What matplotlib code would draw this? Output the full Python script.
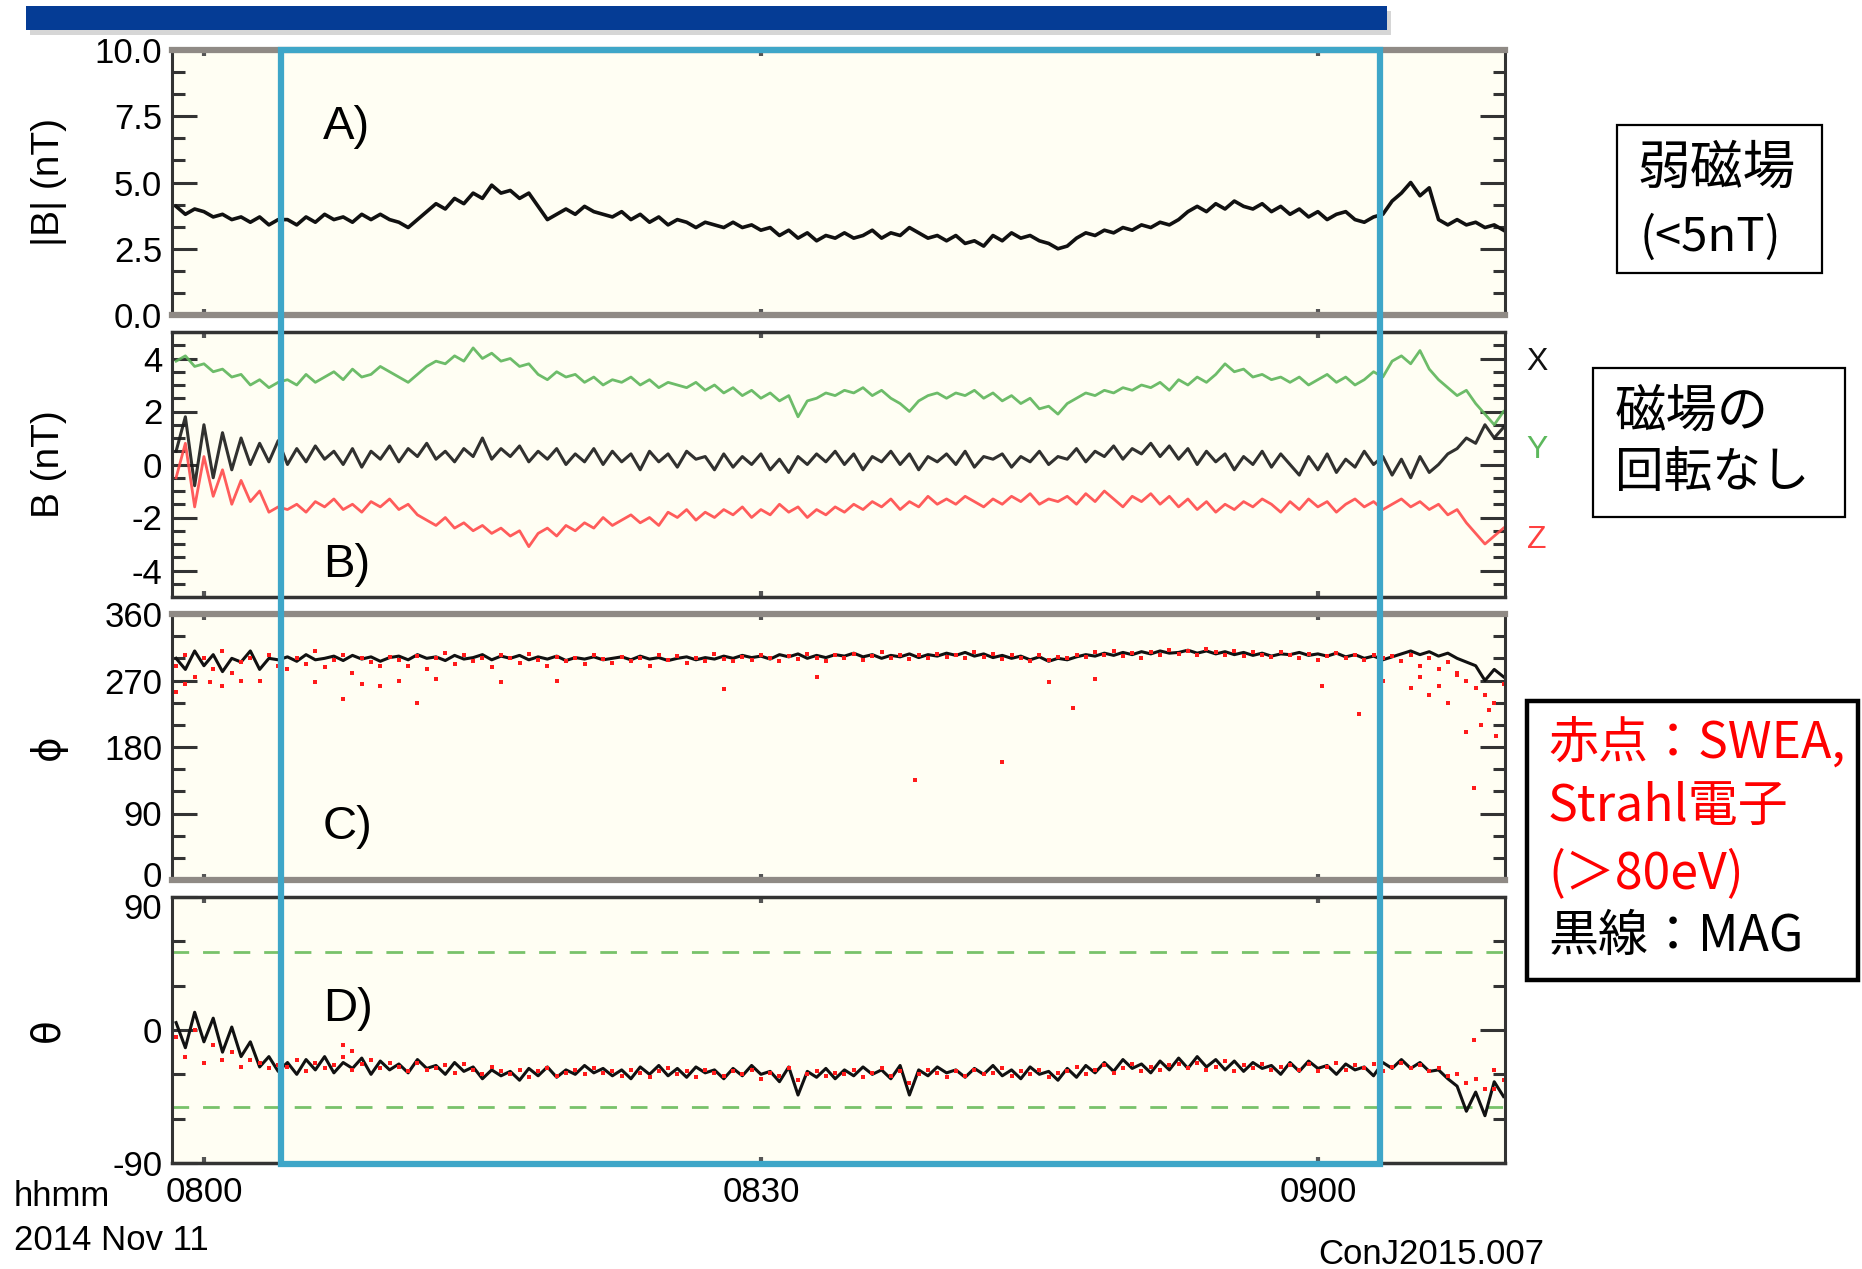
import matplotlib
matplotlib.use("Agg")
import matplotlib.pyplot as plt
import numpy as np
from matplotlib.patches import Rectangle
from matplotlib.transforms import blended_transform_factory, ScaledTranslation

plt.rcParams['font.family'] = ['Liberation Sans', 'Noto Sans CJK JP', 'DejaVu Sans']
plt.rcParams['axes.unicode_minus'] = False

W, H = 1862, 1269
CJK = ['Noto Sans CJK JP', 'DejaVu Sans']

# samples every 30 s, minutes after 08:00
t0, dt = -1.5, 0.5

b_mag = [4.1, 3.8, 4.0, 3.9, 3.7, 3.8, 3.6, 3.7, 3.5, 3.7, 3.4, 3.6,
         3.6, 3.4, 3.7, 3.5, 3.8, 3.6, 3.7, 3.5, 3.8, 3.6, 3.8, 3.6,
         3.5, 3.3, 3.6, 3.9, 4.2, 4.0, 4.4, 4.2, 4.6, 4.4, 4.9, 4.6,
         4.7, 4.4, 4.6, 4.1, 3.6, 3.8, 4.0, 3.8, 4.1, 3.9, 3.8, 3.7,
         3.9, 3.6, 3.8, 3.5, 3.7, 3.4, 3.6, 3.5, 3.3, 3.5, 3.4, 3.3,
         3.5, 3.3, 3.4, 3.2, 3.3, 3.0, 3.2, 2.9, 3.1, 2.8, 3.0, 2.9,
         3.1, 2.9, 3.0, 3.2, 2.9, 3.1, 3.0, 3.3, 3.1, 2.9, 3.0, 2.8,
         3.0, 2.7, 2.8, 2.6, 3.0, 2.8, 3.1, 2.9, 3.0, 2.8, 2.7, 2.5,
         2.6, 2.9, 3.1, 3.0, 3.2, 3.1, 3.3, 3.2, 3.4, 3.3, 3.5, 3.4,
         3.6, 3.9, 4.1, 3.9, 4.2, 4.0, 4.3, 4.1, 4.0, 4.2, 3.9, 4.1,
         3.8, 4.0, 3.7, 3.9, 3.6, 3.8, 3.9, 3.6, 3.5, 3.7, 3.8, 4.3,
         4.6, 5.0, 4.5, 4.8, 3.6, 3.4, 3.6, 3.4, 3.5, 3.3, 3.4, 3.2]

b_x = [0.5, 1.8, -0.8, 1.5, -0.5, 1.2, -0.2, 1.0, 0.0, 0.8, 0.1, 0.9,
       0.0, 0.6, 0.1, 0.7, 0.2, 0.5, 0.0, 0.6, -0.1, 0.5, 0.2, 0.7,
       0.1, 0.6, 0.3, 0.8, 0.2, 0.5, 0.1, 0.6, 0.3, 1.0, 0.2, 0.6,
       0.3, 0.7, 0.1, 0.5, 0.2, 0.6, 0.0, 0.4, 0.1, 0.6, 0.0, 0.5,
       0.1, 0.4, -0.2, 0.5, 0.1, 0.4, -0.1, 0.5, 0.2, 0.3, -0.2, 0.4,
       -0.1, 0.3, 0.0, 0.4, -0.2, 0.2, -0.3, 0.3, 0.0, 0.4, 0.1, 0.5,
       0.0, 0.4, -0.2, 0.3, 0.1, 0.5, 0.0, 0.4, -0.2, 0.3, 0.1, 0.4,
       0.0, 0.5, -0.1, 0.3, 0.2, 0.4, -0.1, 0.3, 0.1, 0.5, 0.0, 0.3,
       0.2, 0.6, 0.1, 0.5, 0.3, 0.7, 0.2, 0.6, 0.4, 0.8, 0.3, 0.7,
       0.2, 0.6, 0.0, 0.5, 0.1, 0.4, -0.2, 0.3, 0.0, 0.5, -0.1, 0.4,
       0.0, -0.4, 0.3, -0.2, 0.4, -0.3, 0.2, -0.1, 0.5, 0.0, 0.3, -0.4,
       0.2, -0.5, 0.3, -0.3, 0.0, 0.4, 0.6, 1.0, 0.8, 1.5, 1.0, 1.4]

b_y = [3.9, 4.1, 3.7, 3.8, 3.5, 3.6, 3.3, 3.4, 3.0, 3.2, 2.9, 3.1,
       3.2, 3.0, 3.4, 3.1, 3.3, 3.5, 3.2, 3.6, 3.3, 3.4, 3.7, 3.5,
       3.3, 3.1, 3.4, 3.7, 3.9, 3.8, 4.1, 3.9, 4.4, 4.0, 4.2, 3.9,
       4.0, 3.7, 3.8, 3.4, 3.2, 3.5, 3.3, 3.4, 3.1, 3.3, 3.0, 3.2,
       3.1, 3.3, 3.0, 3.2, 2.9, 3.1, 3.0, 2.9, 3.1, 2.8, 3.0, 2.7,
       2.9, 2.6, 2.8, 2.5, 2.7, 2.4, 2.6, 1.8, 2.4, 2.5, 2.7, 2.6,
       2.8, 2.7, 2.9, 2.6, 2.8, 2.5, 2.3, 2.0, 2.4, 2.6, 2.7, 2.5,
       2.7, 2.6, 2.8, 2.5, 2.7, 2.4, 2.6, 2.3, 2.5, 2.1, 2.2, 1.9,
       2.3, 2.5, 2.7, 2.6, 2.8, 2.7, 2.9, 2.8, 3.0, 2.9, 3.1, 2.8,
       3.2, 3.0, 3.3, 3.1, 3.4, 3.8, 3.5, 3.6, 3.3, 3.4, 3.2, 3.3,
       3.1, 3.3, 3.0, 3.2, 3.4, 3.1, 3.3, 3.0, 3.2, 3.5, 3.3, 3.9,
       4.1, 3.8, 4.3, 3.6, 3.2, 2.9, 2.6, 2.8, 2.3, 1.9, 1.5, 2.0]

b_z = [-0.5, 0.8, -1.6, 0.3, -1.2, -0.2, -1.5, -0.6, -1.4, -1.0, -1.8, -1.6,
       -1.7, -1.5, -1.8, -1.4, -1.6, -1.3, -1.7, -1.5, -1.8, -1.4, -1.6, -1.3,
       -1.7, -1.5, -1.9, -2.1, -2.3, -2.0, -2.4, -2.2, -2.5, -2.3, -2.6, -2.4,
       -2.7, -2.5, -3.1, -2.6, -2.4, -2.7, -2.3, -2.5, -2.2, -2.4, -2.0, -2.3,
       -2.1, -1.9, -2.2, -2.0, -2.3, -1.8, -2.0, -1.7, -2.1, -1.8, -2.0, -1.7,
       -1.9, -1.6, -2.0, -1.7, -1.9, -1.5, -1.8, -1.6, -2.0, -1.7, -1.9, -1.6,
       -1.8, -1.5, -1.7, -1.4, -1.6, -1.3, -1.7, -1.4, -1.6, -1.2, -1.5, -1.3,
       -1.5, -1.2, -1.4, -1.6, -1.3, -1.5, -1.2, -1.4, -1.1, -1.5, -1.3, -1.4,
       -1.2, -1.5, -1.1, -1.4, -1.0, -1.3, -1.6, -1.2, -1.4, -1.1, -1.5, -1.2,
       -1.6, -1.3, -1.7, -1.4, -1.8, -1.5, -1.7, -1.4, -1.6, -1.3, -1.5, -1.8,
       -1.4, -1.7, -1.3, -1.6, -1.4, -1.8, -1.5, -1.3, -1.6, -1.4, -1.7, -1.5,
       -1.3, -1.6, -1.4, -1.7, -1.5, -1.9, -1.7, -2.2, -2.6, -3.0, -2.7, -2.4]

phi_mag = [300, 285, 310, 290, 305, 282, 300, 295, 310, 285, 300, 298,
           302, 296, 305, 298, 300, 303, 297, 304, 299, 302, 296, 301,
           303, 298, 305, 300, 302, 297, 304, 299, 301, 305, 298, 303,
           300, 304, 298, 302, 299, 303, 297, 301, 299, 302, 298, 300,
           302, 298, 303, 299, 301, 297, 300, 302, 298, 301, 299, 303,
           300, 304, 301, 303, 299, 305, 302, 306, 300, 304, 301, 305,
           303, 307, 302, 305, 300, 304, 302, 306, 301, 305, 303, 307,
           304, 308, 303, 306, 301, 304, 300, 303, 298, 302, 296, 300,
           298, 302, 305, 303, 307, 304, 308, 305, 309, 306, 310, 307,
           308, 311, 307, 310, 306, 309, 305, 308, 304, 307, 303, 306,
           305, 308, 304, 306, 303, 307, 302, 305, 300, 303, 298, 302,
           306, 310, 305, 309, 303, 307, 300, 295, 290, 270, 285, 275]

phi_swea = [290, 305, 275, 300, 285, 310, 280, 295, 300, 270, 305, 290,
            285, 300, 292, 310, 288, 298, 305, 280, 300, 295, 290, 302,
            298, 290, 303, 285, 300, 307, 293, 305, 296, 300, 288, 304,
            300, 294, 306, 298, 290, 302, 296, 300, 292, 305, 299, 294,
            302, 296, 300, 290, 305, 298, 303, 294, 300, 297, 306, 299,
            296, 302, 298, 305, 300, 296, 303, 299, 306, 301, 297, 304,
            300, 306, 298, 303, 309, 301, 305, 299, 304, 300, 306, 302,
            305, 300, 308, 302, 306, 299, 304, 301, 296, 305, 298, 302,
            300, 305, 302, 308, 304, 310, 303, 307, 301, 309, 305, 311,
            306, 310, 304, 312, 308, 305, 310, 303, 308, 305, 302, 309,
            304, 300, 306, 298, 303, 307, 300, 304, 298, 305, 300, 303,
            296, 305, 290, 300, 285, 295, 280, 270, 260, 250, 240, 265]

# scattered SWEA points away from the main band
phi_out_t = [-1.5, -1.0, 0.3, 1.0, 2.0, 4.2, 6.0, 7.5, 8.5, 9.5, 10.5, 11.5,
             12.5, 16.0, 19.0, 28.0, 33.0, 38.3, 43.0, 45.5, 46.8, 48.0,
             60.2, 62.2, 63.5, 65.0, 65.5, 66.0, 66.5, 67.0, 67.5, 68.0,
             68.4, 68.8, 69.2, 69.6]
phi_out_v = [255, 265, 268, 262, 270, 258, 268, 245, 265, 262, 270, 240,
             272, 268, 270, 258, 275, 135, 160, 268, 233, 272,
             262, 225, 270, 260, 275, 250, 262, 240, 278, 200,
             125, 210, 230, 195]

theta_mag = [5, -12, 12, -8, 8, -15, 2, -18, -8, -25, -18, -28,
             -22, -30, -20, -27, -18, -29, -22, -26, -19, -30, -21, -27,
             -23, -29, -20, -26, -24, -30, -22, -28, -25, -33, -27, -31,
             -28, -34, -26, -31, -25, -32, -27, -30, -24, -29, -26, -31,
             -27, -33, -25, -30, -24, -31, -26, -32, -25, -29, -27, -33,
             -26, -31, -24, -30, -28, -35, -25, -44, -28, -32, -26, -33,
             -27, -31, -25, -30, -27, -33, -24, -44, -27, -31, -25, -29,
             -27, -32, -26, -30, -24, -31, -27, -33, -25, -30, -28, -34,
             -26, -32, -24, -29, -22, -28, -20, -26, -23, -29, -21, -27,
             -19, -26, -18, -25, -20, -27, -21, -28, -22, -26, -24, -30,
             -22, -28, -21, -26, -24, -30, -23, -27, -25, -31, -22, -26,
             -20, -26, -22, -28, -27, -33, -38, -55, -42, -58, -35, -45]

theta_swea = [-5, -18, 0, -22, -10, -20, -15, -25, -20, -22, -26, -24,
              -25, -20, -28, -22, -26, -24, -18, -27, -23, -20, -26, -22,
              -25, -28, -22, -27, -26, -24, -29, -23, -27, -30, -25, -28,
              -30, -27, -32, -28, -26, -31, -29, -27, -30, -26, -29, -28,
              -31, -27, -29, -32, -28, -26, -30, -28, -32, -27, -29, -31,
              -28, -30, -27, -33, -29, -31, -26, -34, -30, -28, -31, -29,
              -30, -27, -32, -29, -26, -31, -28, -36, -30, -27, -29, -32,
              -28, -31, -27, -30, -29, -26, -31, -28, -30, -27, -32, -29,
              -28, -25, -30, -27, -24, -29, -26, -23, -28, -25, -27, -24,
              -23, -26, -22, -27, -25, -21, -28, -24, -26, -23, -27, -25,
              -24, -27, -23, -28, -25, -22, -27, -24, -26, -23, -28, -25,
              -22, -26, -24, -28, -26, -31, -30, -36, -33, -40, -27, -34]

theta_out_t = [7.5, 8.0, 68.4, 69.5]
theta_out_v = [-10, -14, -7, -40]

theta_limits = [53, -52]          # green dashed reference lines
xtick_pos = [0, 30, 60]
xtick_lab = ['0800', '0830', '0900']
window = [4.15, 63.35]            # highlighted interval


def tt(vals):
    return t0 + dt * np.arange(len(vals))


def fx(x):
    return x / W


def fy(y):
    return 1 - y / H


fig = plt.figure(figsize=(W / 100, H / 100), dpi=100)
fig.patch.set_facecolor('white')

ax_left, ax_right = 172, 1505
rows = [(50, 315, 'gray'), (332, 597, 'dark'), (614, 880, 'gray'), (897, 1163, 'dark')]
axes = []
for top, bot, edge in rows:
    ax = fig.add_axes([fx(ax_left), fy(bot), (ax_right - ax_left) / W, (bot - top) / H])
    ax.set_facecolor('#fffef3')
    ax.set_xlim(-1.72, 70.08)
    ax.set_xticks(xtick_pos)
    ax.tick_params(axis='x', direction='in', length=4, width=3, top=True, bottom=True,
                   labelbottom=False, color='#555555')
    ax.tick_params(axis='y', which='major', direction='in', length=18, width=2.2,
                   left=True, right=True, labelsize=25, pad=7, color='#333333')
    ax.tick_params(axis='y', which='minor', direction='in', length=9, width=2.2,
                   left=True, right=True, color='#333333')
    for s in ['left', 'right']:
        ax.spines[s].set_color('#333333')
        ax.spines[s].set_linewidth(2.2)
    for s in ['top', 'bottom']:
        if edge == 'gray':
            ax.spines[s].set_color('#8f8a85')
            ax.spines[s].set_linewidth(4.5)
        else:
            ax.spines[s].set_color('#333333')
            ax.spines[s].set_linewidth(2.5)
    axes.append(ax)

axA, axB, axC, axD = axes

# A) |B|
axA.plot(tt(b_mag), b_mag, color='#111111', lw=2.6)
axA.set_ylim(0, 10)
axA.set_yticks([0, 2.5, 5, 7.5, 10])
axA.set_yticklabels(['0.0', '2.5', '5.0', '7.5', '10.0'])
axA.set_yticks(np.arange(0, 10.01, 2.5 / 3), minor=True)
axA.set_ylabel('|B| (nT)', fontsize=28)

# B) components
axB.plot(tt(b_y), b_y, color='#5db55a', lw=2.0, alpha=0.9)
axB.plot(tt(b_x), b_x, color='#1a1a1a', lw=2.2, alpha=0.9)
axB.plot(tt(b_z), b_z, color='#ff4a4a', lw=2.0, alpha=0.9)
axB.set_ylim(-5, 5)
axB.set_yticks([-4, -2, 0, 2, 4])
axB.set_yticklabels(['-4', '-2', '0', '2', '4'])
axB.set_yticks(np.arange(-4.5, 5.0, 0.5), minor=True)
axB.set_ylabel('B (nT)', fontsize=28)

# C) phi
axC.plot(tt(phi_mag), phi_mag, color='#111111', lw=2.2)
axC.plot(tt(phi_swea), phi_swea, 's', color='#ff1a1a', ms=3.2, mew=0)
axC.plot(phi_out_t, phi_out_v, 's', color='#ff1a1a', ms=3.2, mew=0)
axC.set_ylim(0, 360)
axC.set_yticks([0, 90, 180, 270, 360])
axC.set_yticks(np.arange(0, 361, 30), minor=True)
axC.set_ylabel('ϕ', fontsize=28, family=['DejaVu Sans'])

# D) theta
for v in theta_limits:
    axD.axhline(v, color='#78c26a', lw=2, dashes=(6, 5))
axD.plot(tt(theta_mag), theta_mag, color='#111111', lw=2.2)
axD.plot(tt(theta_swea), theta_swea, 's', color='#ff1a1a', ms=3.2, mew=0)
axD.plot(theta_out_t, theta_out_v, 's', color='#ff1a1a', ms=3.2, mew=0)
axD.set_ylim(-90, 90)
axD.set_yticks([-90, 0, 90])
axD.set_yticks([-60, -30, 30, 60], minor=True)
axD.set_ylabel('θ', fontsize=28, family=['DejaVu Sans'])
axD.set_xticklabels(xtick_lab)
axD.tick_params(axis='x', labelbottom=True, labelsize=25, pad=9)

# the extreme labels at the C/D junction are nudged into their panels
axC.get_yaxis().get_major_ticks()[0].label1.set_transform(
    axC.get_yaxis().get_major_ticks()[0].label1.get_transform()
    + ScaledTranslation(0, 6 / 100, fig.dpi_scale_trans))
axD.get_yaxis().get_major_ticks()[-1].label1.set_transform(
    axD.get_yaxis().get_major_ticks()[-1].label1.get_transform()
    + ScaledTranslation(0, -9 / 100, fig.dpi_scale_trans))

for ax in axes:
    ax.yaxis.set_label_coords(-0.079, 0.5)

# panel letters
for ax, lab, ypos in [(axA, 'A)', 0.71), (axB, 'B)', 0.12), (axC, 'C)', 0.2), (axD, 'D)', 0.58)]:
    ax.text(0.113, ypos, lab, transform=ax.transAxes, fontsize=34, va='center', ha='left')

# highlighted interval frame
frame_tr = blended_transform_factory(axD.transData, fig.transFigure)
fig.add_artist(Rectangle((window[0], fy(1164)), window[1] - window[0], (1164 - 50) / H,
                         transform=frame_tr, fill=False, ec='#3ea6c8', lw=4.5, zorder=20,
                         clip_on=False))

# title bar with shadow
fig.add_artist(Rectangle((fx(30), fy(35)), (1387 - 26) / W, 24 / H, transform=fig.transFigure,
                         fc='#d6d6d6', ec='none', zorder=1))
fig.add_artist(Rectangle((fx(26), fy(30)), (1387 - 26) / W, 24 / H, transform=fig.transFigure,
                         fc='#053c95', ec='none', zorder=2))

# component labels
for lab, col, ypos in [('X', '#111111', 362), ('Y', '#5cb85c', 450), ('Z', '#ff4040', 540)]:
    fig.text(fx(1537), fy(ypos), lab, color=col, fontsize=23, ha='center', va='center')

# bottom texts
fig.text(fx(14), fy(1197), 'hhmm', fontsize=25, va='center', ha='left')
fig.text(fx(14), fy(1241), '2014 Nov 11', fontsize=25, va='center', ha='left')
fig.text(fx(1318), fy(1255), 'ConJ2015.007', fontsize=25, va='center', ha='left')


# annotation boxes
def box(x0, y0, x1, y1, lw):
    fig.add_artist(Rectangle((fx(x0), fy(y1)), (x1 - x0) / W, (y1 - y0) / H,
                             transform=fig.transFigure, fill=False, ec='black', lw=lw))


box(1617, 125, 1822, 273, 1.6)
fig.text(fx(1638), fy(168), '弱磁場', fontsize=38, family=CJK, va='center', ha='left')
fig.text(fx(1640), fy(238), '(<5nT)', fontsize=34, family=CJK, va='center', ha='left')

box(1593, 368, 1845, 517, 1.6)
fig.text(fx(1615), fy(412), '磁場の', fontsize=37, family=CJK, va='center', ha='left')
fig.text(fx(1615), fy(473), '回転なし', fontsize=35, family=CJK, va='center', ha='left')

box(1527, 701, 1858, 980, 3.2)
red_lines = ['赤点：SWEA,', 'Strahl電子', '(＞80eV)']
for s, ypos in zip(red_lines, [744, 807, 874]):
    fig.text(fx(1548), fy(ypos), s, fontsize=36, family=CJK, color='#ff0000', va='center', ha='left')
fig.text(fx(1548), fy(937), '黒線：MAG', fontsize=36, family=CJK, color='black', va='center', ha='left')

fig.savefig('out.png', dpi=100)
